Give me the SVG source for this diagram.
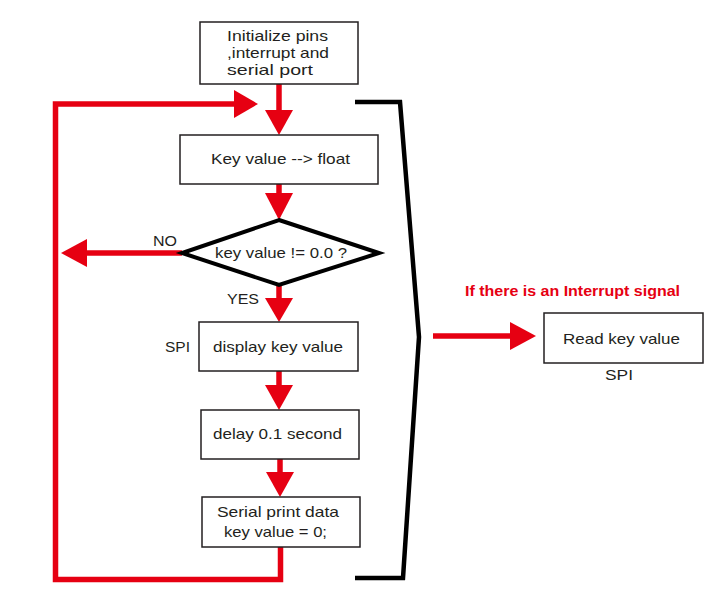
<svg xmlns="http://www.w3.org/2000/svg" width="719" height="606" viewBox="0 0 719 606">
<style>
.box{fill:#fff;stroke:#231f20;stroke-width:1.5}
.t{font-family:"Liberation Sans",Arial,sans-serif;font-size:15px;fill:#231f20}
.c{text-anchor:middle}
.red{stroke:#e60012;fill:none;stroke-width:5.5}
.head{fill:#e60012}
.blk{stroke:#000;fill:none;stroke-width:4.5}
</style>
<rect width="719" height="606" fill="#fff"/>
<g id="connectors">
  <line class="red" x1="279" y1="84" x2="279" y2="112"/>
  <polygon class="head" points="265,110 293,110 279,135"/>
  <line class="red" x1="279" y1="184" x2="279" y2="195"/>
  <polygon class="head" points="265,193 293,193 279,220"/>
  <line class="red" x1="182" y1="253" x2="85" y2="253"/>
  <polygon class="head" points="87,239 87,267 61,253"/>
  <line class="red" x1="279" y1="285" x2="279" y2="300"/>
  <polygon class="head" points="265,298 293,298 279,322"/>
  <line class="red" x1="279" y1="371" x2="279" y2="387"/>
  <polygon class="head" points="265,385 293,385 279,410"/>
  <line class="red" x1="280" y1="459" x2="280" y2="474"/>
  <polygon class="head" points="266,472 294,472 280,497"/>
  <polyline class="red" points="280.5,547 280.5,579.5 55.5,579.5 55.5,104 236,104"/>
  <polygon class="head" points="234,90 234,118 258,104"/>
  <polyline class="blk" points="355,102 400,102 419,337 403,578 355,578"/>
  <line class="red" x1="433" y1="336" x2="512" y2="336"/>
  <polygon class="head" points="510,322 510,350 536,336"/>
</g>
<g id="init">
  <rect class="box" x="200" y="22" width="158" height="62"/>
  <text class="t" x="227" y="41" textLength="101" lengthAdjust="spacingAndGlyphs">Initialize pins</text>
  <text class="t" x="227" y="58" textLength="102" lengthAdjust="spacingAndGlyphs">,interrupt and</text>
  <text class="t" x="227" y="75" textLength="86" lengthAdjust="spacingAndGlyphs">serial port</text>
</g>
<g id="keyfloat">
  <rect class="box" x="180" y="135" width="198" height="49"/>
  <text class="t" x="211" y="164" textLength="139" lengthAdjust="spacingAndGlyphs">Key value --&gt; float</text>
</g>
<g id="decision">
  <polygon points="279,220 379,253 279,285 182,253" fill="#fff" stroke="#000" stroke-width="4"/>
  <text class="t" x="215" y="258" textLength="132" lengthAdjust="spacingAndGlyphs">key value != 0.0 ?</text>
  <text class="t" x="153" y="246" textLength="24" lengthAdjust="spacingAndGlyphs">NO</text>
  <text class="t" x="227" y="304" textLength="32" lengthAdjust="spacingAndGlyphs">YES</text>
</g>
<g id="display">
  <rect class="box" x="199" y="322" width="159" height="49"/>
  <text class="t" x="213" y="352" textLength="130" lengthAdjust="spacingAndGlyphs">display key value</text>
  <text class="t" x="165" y="352" textLength="25" lengthAdjust="spacingAndGlyphs">SPI</text>
</g>
<g id="delay">
  <rect class="box" x="201" y="410" width="158" height="49"/>
  <text class="t" x="213" y="439" textLength="129" lengthAdjust="spacingAndGlyphs">delay 0.1 second</text>
</g>
<g id="serial">
  <rect class="box" x="202" y="497" width="158" height="50"/>
  <text class="t" x="217" y="517" textLength="122" lengthAdjust="spacingAndGlyphs">Serial print data</text>
  <text class="t" x="224" y="537" textLength="103" lengthAdjust="spacingAndGlyphs">key value = 0;</text>
</g>
<g id="interrupt">
  <text x="465" y="296" font-family="'Liberation Sans',Arial,sans-serif" font-weight="bold" font-size="15" fill="#e60012" textLength="215" lengthAdjust="spacingAndGlyphs">If there is an Interrupt signal</text>
</g>
<g id="readkey">
  <rect class="box" x="544" y="313" width="159" height="50"/>
  <text class="t" x="563" y="344" textLength="117" lengthAdjust="spacingAndGlyphs">Read key value</text>
  <text class="t" x="605" y="380" textLength="28" lengthAdjust="spacingAndGlyphs">SPI</text>
</g>
</svg>
